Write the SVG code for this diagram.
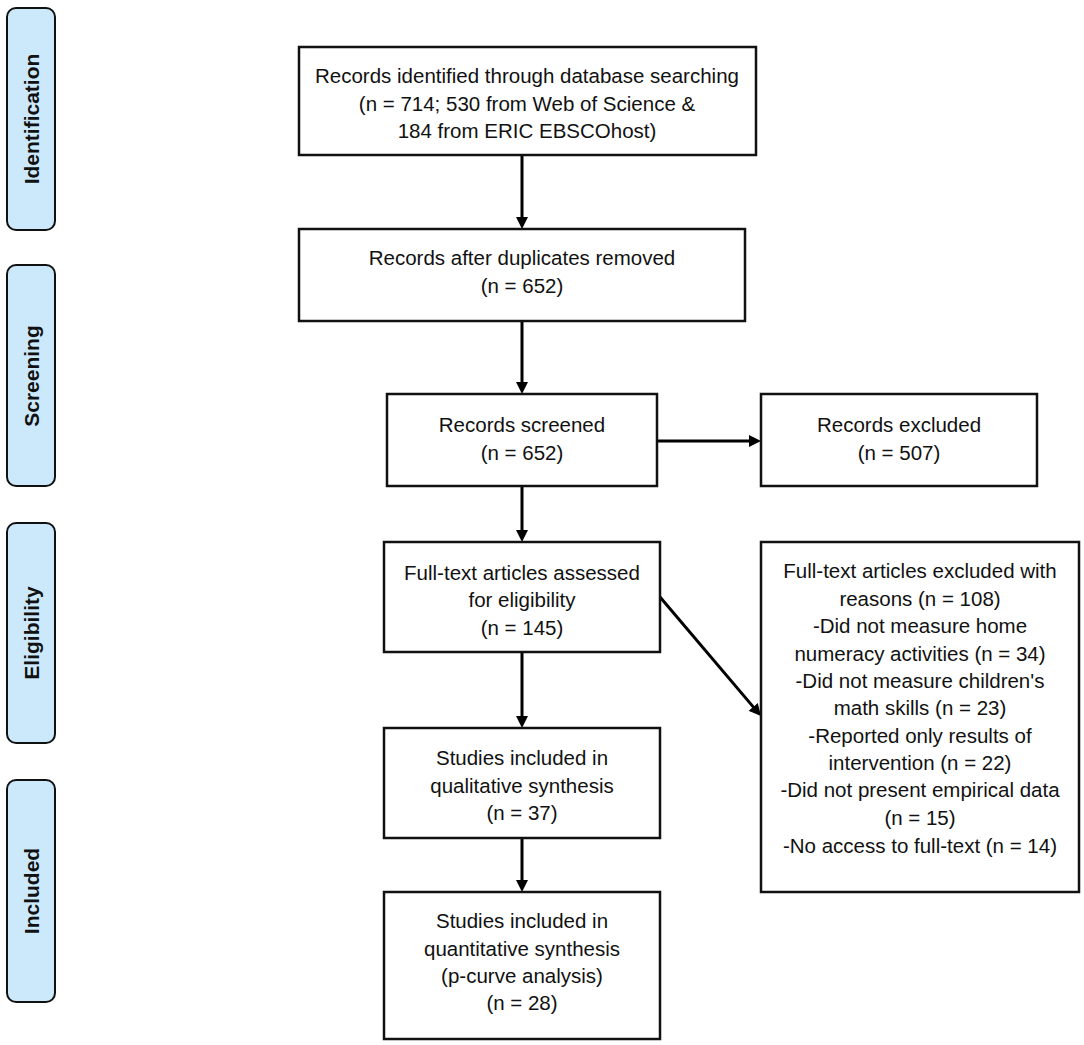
<svg xmlns="http://www.w3.org/2000/svg" width="1084" height="1045" viewBox="0 0 1084 1045">
<defs>
<marker id="ah" viewBox="0 0 12 12" refX="2" refY="6" markerWidth="12" markerHeight="12" markerUnits="userSpaceOnUse" orient="auto">
<path d="M0,0 L12,6 L0,12 Z" fill="#000"/>
</marker>
</defs>
<style>
.box{fill:#fff;stroke:#111;stroke-width:2.5}
.phase{fill:#CCE9FC;stroke:#111;stroke-width:2}
.t{font-family:"Liberation Sans",Arial,sans-serif;font-size:20.5px;fill:#111;text-anchor:middle}
.pt{font-family:"Liberation Sans",Arial,sans-serif;font-size:21px;font-weight:bold;fill:#111;text-anchor:middle}
.c{stroke:#000;stroke-width:3;fill:none;marker-end:url(#ah)}
</style>
<rect width="1084" height="1045" fill="#fff"/>
<g id="phase-identification">
<rect class="phase" x="7" y="8" width="48" height="222" rx="9"/>
<text class="pt" transform="translate(39,119) rotate(-90)">Identification</text>
</g>
<g id="phase-screening">
<rect class="phase" x="7" y="265" width="48" height="221" rx="9"/>
<text class="pt" transform="translate(39,376) rotate(-90)">Screening</text>
</g>
<g id="phase-eligibility">
<rect class="phase" x="7" y="523" width="48" height="220" rx="9"/>
<text class="pt" transform="translate(39,633) rotate(-90)">Eligibility</text>
</g>
<g id="phase-included">
<rect class="phase" x="7" y="780" width="48" height="222" rx="9"/>
<text class="pt" transform="translate(39,891) rotate(-90)">Included</text>
</g>
<g id="connectors">
<line class="c" x1="522" y1="155" x2="522" y2="219"/>
<line class="c" x1="522" y1="321" x2="522" y2="384"/>
<line class="c" x1="657" y1="441" x2="751" y2="441"/>
<line class="c" x1="522" y1="486" x2="522" y2="532"/>
<line class="c" x1="660" y1="597" x2="754.5" y2="708.4"/>
<line class="c" x1="522" y1="652" x2="522" y2="718"/>
<line class="c" x1="522" y1="838" x2="522" y2="882"/>
</g>
<g id="identified">
<rect class="box" x="299" y="47" width="457" height="108"/>
<text class="t" x="527" y="83">Records identified through database searching</text>
<text class="t" x="527" y="110.5">(n = 714; 530 from Web of Science &amp;</text>
<text class="t" x="527" y="138">184 from ERIC EBSCOhost)</text>
</g>
<g id="deduplicated">
<rect class="box" x="299" y="229" width="446" height="92"/>
<text class="t" x="522" y="265">Records after duplicates removed</text>
<text class="t" x="522" y="293">(n = 652)</text>
</g>
<g id="screened">
<rect class="box" x="387" y="394" width="270" height="92"/>
<text class="t" x="522" y="432">Records screened</text>
<text class="t" x="522" y="460">(n = 652)</text>
</g>
<g id="excluded">
<rect class="box" x="761" y="394" width="276" height="92"/>
<text class="t" x="899" y="432">Records excluded</text>
<text class="t" x="899" y="460">(n = 507)</text>
</g>
<g id="fulltext">
<rect class="box" x="384" y="542" width="276" height="110"/>
<text class="t" x="522" y="579.5">Full-text articles assessed</text>
<text class="t" x="522" y="607">for eligibility</text>
<text class="t" x="522" y="634.5">(n = 145)</text>
</g>
<g id="fulltext-excluded">
<rect class="box" x="761" y="542" width="318" height="350"/>
<text class="t" x="920" y="578">Full-text articles excluded with</text>
<text class="t" x="920" y="606">reasons (n = 108)</text>
<text class="t" x="920" y="633">-Did not measure home</text>
<text class="t" x="920" y="661">numeracy activities (n = 34)</text>
<text class="t" x="920" y="688">-Did not measure children's</text>
<text class="t" x="920" y="715">math skills (n = 23)</text>
<text class="t" x="920" y="743">-Reported only results of</text>
<text class="t" x="920" y="770">intervention (n = 22)</text>
<text class="t" x="920" y="797">-Did not present empirical data</text>
<text class="t" x="920" y="825">(n = 15)</text>
<text class="t" x="920" y="853">-No access to full-text (n = 14)</text>
</g>
<g id="qualitative">
<rect class="box" x="384" y="728" width="276" height="110"/>
<text class="t" x="522" y="765">Studies included in</text>
<text class="t" x="522" y="793">qualitative synthesis</text>
<text class="t" x="522" y="820">(n = 37)</text>
</g>
<g id="quantitative">
<rect class="box" x="384" y="892" width="276" height="147"/>
<text class="t" x="522" y="928">Studies included in</text>
<text class="t" x="522" y="956">quantitative synthesis</text>
<text class="t" x="522" y="983">(p-curve analysis)</text>
<text class="t" x="522" y="1010">(n = 28)</text>
</g>
</svg>
